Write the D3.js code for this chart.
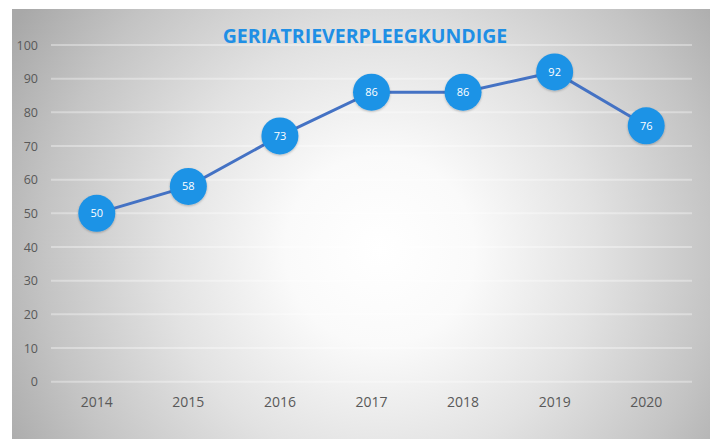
<!DOCTYPE html>
<html>
<head>
<meta charset="utf-8">
<script src="https://cdn.jsdelivr.net/npm/d3@7"></script>
<style>
  body { margin: 0; background: #fff; }
  svg { display: block; }
</style>
</head>
<body>
<div id="chart"></div>
<script>
"use strict"

// data
var title = "GERIATRIEVERPLEEGKUNDIGE";
var years = ["2014", "2015", "2016", "2017", "2018", "2019", "2020"];
var values = [50, 58, 73, 86, 86, 92, 76];
var yTicks = [0, 10, 20, 30, 40, 50, 60, 70, 80, 90, 100];

var width = 710, height = 439;
var margin = {top: 45, right: 18, bottom: 57, left: 51};

var svg = d3.select("#chart")
    .append("svg")
    .attr("width", width)
    .attr("height", height);

// radial grey background like the office chart
var defs = svg.append("defs");
var grad = defs.append("radialGradient")
    .attr("id", "bg")
    .attr("gradientUnits", "userSpaceOnUse")
    .attr("cx", 380).attr("cy", 250).attr("r", 430);
grad.append("stop").attr("offset", "0%").attr("stop-color", "#ffffff");
grad.append("stop").attr("offset", "22%").attr("stop-color", "#fafafa");
grad.append("stop").attr("offset", "50%").attr("stop-color", "#e2e2e2");
grad.append("stop").attr("offset", "78%").attr("stop-color", "#c4c4c4");
grad.append("stop").attr("offset", "100%").attr("stop-color", "#a8a8a8");

var shadow = defs.append("filter").attr("id", "shadow")
    .attr("x", "-30%").attr("y", "-30%").attr("width", "160%").attr("height", "160%");
shadow.append("feDropShadow")
    .attr("dx", 0).attr("dy", 1).attr("stdDeviation", 1.2)
    .attr("flood-color", "#000").attr("flood-opacity", 0.25);

svg.append("rect")
    .attr("x", 12).attr("y", 9)
    .attr("width", width - 12).attr("height", height - 9)
    .attr("fill", "url(#bg)");

var x = d3.scaleBand()
    .domain(years)
    .range([margin.left, width - margin.right]);

var y = d3.scaleLinear()
    .domain([0, 100])
    .range([height - margin.bottom - 0.3, margin.top]);

// gridlines
svg.append("g")
    .selectAll("line")
    .data(yTicks)
    .enter()
    .append("line")
    .attr("x1", margin.left)
    .attr("x2", width - margin.right)
    .attr("y1", function(d) { return y(d); })
    .attr("y2", function(d) { return y(d); })
    .attr("stroke", "#ffffff")
    .attr("stroke-opacity", 0.35)
    .attr("stroke-width", 2);

// y axis
var yAxis = svg.append("g")
    .attr("transform", "translate(" + (margin.left - 13) + ",0)")
    .call(d3.axisLeft(y).tickValues(yTicks).tickSize(0).tickPadding(0));
yAxis.select(".domain").remove();
yAxis.selectAll("text")
    .attr("fill", "#595959")
    .style("font-family", "Open Sans, sans-serif")
    .style("font-size", "12.5px");

// x axis
var xAxis = svg.append("g")
    .attr("transform", "translate(0," + (height - margin.bottom) + ")")
    .call(d3.axisBottom(x).tickSize(0).tickPadding(15));
xAxis.select(".domain").remove();
xAxis.selectAll("text")
    .attr("fill", "#595959")
    .style("font-family", "Open Sans, sans-serif")
    .style("font-size", "14px");

// title
svg.append("text")
    .attr("x", 365)
    .attr("y", 43)
    .attr("text-anchor", "middle")
    .attr("fill", "#1f8fe5")
    .style("font-family", "Open Sans, sans-serif")
    .style("font-weight", "bold")
    .style("font-size", "19.5px")
    .text(title);

// line
var line = d3.line()
    .x(function(d, i) { return x(years[i]) + x.bandwidth() / 2; })
    .y(function(d) { return y(d); });

svg.append("path")
    .datum(values)
    .attr("d", line)
    .attr("fill", "none")
    .attr("stroke", "#4472c4")
    .attr("stroke-width", 3);

// markers
var points = svg.append("g")
    .selectAll("g")
    .data(values)
    .enter()
    .append("g")
    .attr("transform", function(d, i) {
        return "translate(" + (x(years[i]) + x.bandwidth() / 2) + "," + y(d) + ")";
    });

points.append("circle")
    .attr("r", 18.5)
    .attr("fill", "#1f93e6")
    .attr("filter", "url(#shadow)");

points.append("text")
    .attr("text-anchor", "middle")
    .attr("dy", "0.35em")
    .attr("fill", "#ffffff")
    .style("font-family", "Open Sans, sans-serif")
    .style("font-size", "11px")
    .text(function(d) { return d; });
</script>
</body>
</html>
